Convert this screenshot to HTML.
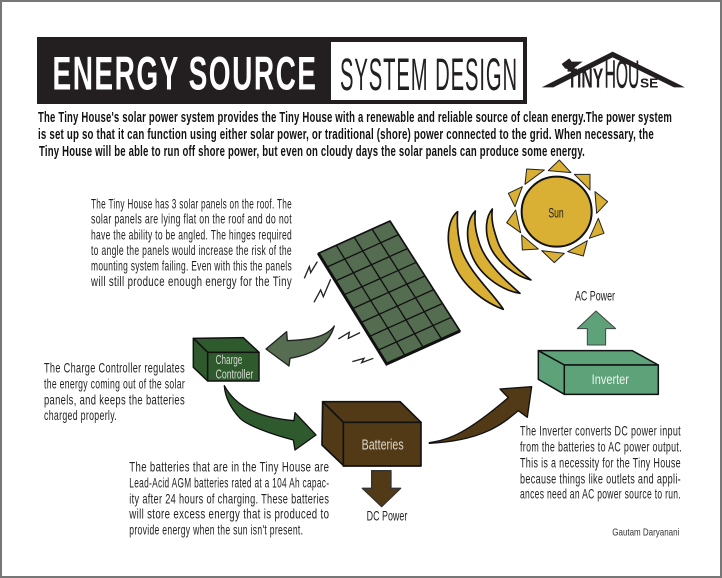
<!DOCTYPE html>
<html lang="en"><head><meta charset="utf-8"><title>Energy Source System Design</title>
<style>
html,body{margin:0;padding:0;background:#fff}
svg{display:block}
text{font-family:"Liberation Sans",sans-serif}
.b{font-size:14px;fill:#222;letter-spacing:.5px}
.i{font-size:14.5px;font-weight:bold;fill:#111;letter-spacing:.3px}
</style></head><body>
<svg width="722" height="578" viewBox="0 0 722 578" xmlns="http://www.w3.org/2000/svg">
<rect x="1" y="1" width="720" height="576" fill="#fff" stroke="#777" stroke-width="2"/>

<g>
<rect x="37" y="37" width="490" height="67" fill="#231f20"/>
<rect x="331" y="42" width="192" height="58" fill="#fff"/>
<text x="52.5" y="89.5" font-size="47" font-weight="bold" fill="#fff" letter-spacing="2.5" textLength="265" lengthAdjust="spacingAndGlyphs">ENERGY SOURCE</text>
<text x="340" y="90" font-size="45" fill="#231f20" letter-spacing="2" textLength="178" lengthAdjust="spacingAndGlyphs">SYSTEM DESIGN</text>
</g>

<g transform="translate(530,40) scale(.3333)">
<path d="M35,142 L248,35 L465,142 L432,142 L248,52 L70,142Z" fill="#231f20"/>
<path d="M95,72 L118,55 L125,65 L158,65 L135,82 L128,92 L105,85Z" fill="#231f20"/>
<text x="112" y="142" font-size="84" font-weight="bold" fill="#231f20" textLength="108" lengthAdjust="spacingAndGlyphs">TINY</text>
<text x="224" y="142" font-size="118" fill="#231f20" stroke="#231f20" stroke-width="1.5" textLength="104" lengthAdjust="spacingAndGlyphs">HOU</text>
<text x="330" y="142" font-size="38" font-weight="bold" fill="#231f20" textLength="55" lengthAdjust="spacingAndGlyphs">SE</text>
</g>

<g>
<text class="i" x="38" y="122" textLength="634" lengthAdjust="spacingAndGlyphs">The Tiny House's solar power system provides the Tiny House with a renewable and reliable source of clean energy.The power system</text>
<text class="i" x="38" y="139" textLength="616" lengthAdjust="spacingAndGlyphs">is set up so that it can function using either solar power, or traditional (shore) power connected to the grid. When necessary, the</text>
<text class="i" x="39" y="156" textLength="546" lengthAdjust="spacingAndGlyphs">Tiny House will be able to run off shore power, but even on cloudy days the solar panels can produce some energy.</text>
</g>

<g>
<text class="b" x="91" y="208.3" textLength="201" lengthAdjust="spacingAndGlyphs">The Tiny House has 3 solar panels on the roof. The</text>
<text class="b" x="91" y="223.7" textLength="201" lengthAdjust="spacingAndGlyphs">solar panels are lying flat on the roof and do not</text>
<text class="b" x="91" y="239.3" textLength="201" lengthAdjust="spacingAndGlyphs">have the ability to be angled. The hinges required</text>
<text class="b" x="91" y="255" textLength="201" lengthAdjust="spacingAndGlyphs">to angle the panels would increase the risk of the</text>
<text class="b" x="91" y="270.7" textLength="201" lengthAdjust="spacingAndGlyphs">mounting system failing. Even with this the panels</text>
<text class="b" x="91" y="286" textLength="201" lengthAdjust="spacingAndGlyphs">will still produce enough energy for the Tiny</text>
</g>

<g>
<text class="b" x="44" y="372.3" textLength="141" lengthAdjust="spacingAndGlyphs">The Charge Controller regulates</text>
<text class="b" x="44" y="388.3" textLength="141" lengthAdjust="spacingAndGlyphs">the energy coming out of the solar</text>
<text class="b" x="44" y="404.3" textLength="141" lengthAdjust="spacingAndGlyphs">panels, and keeps the batteries</text>
<text class="b" x="44" y="420" textLength="73" lengthAdjust="spacingAndGlyphs">charged properly.</text>
</g>

<g>
<text class="b" x="129.3" y="471.7" textLength="200" lengthAdjust="spacingAndGlyphs">The batteries that are in the Tiny House are</text>
<text class="b" x="129.3" y="487.3" textLength="200" lengthAdjust="spacingAndGlyphs">Lead-Acid AGM batteries rated at a 104 Ah capac-</text>
<text class="b" x="129.3" y="503.3" textLength="200" lengthAdjust="spacingAndGlyphs">ity after 24 hours of charging. These batteries</text>
<text class="b" x="129.3" y="518.3" textLength="200" lengthAdjust="spacingAndGlyphs">will store excess energy that is produced to</text>
<text class="b" x="129.3" y="534.3" textLength="174" lengthAdjust="spacingAndGlyphs">provide energy when the sun isn't present.</text>
</g>

<g>
<text class="b" x="520" y="435.7" textLength="161" lengthAdjust="spacingAndGlyphs">The Inverter converts DC power input</text>
<text class="b" x="520" y="451.7" textLength="162" lengthAdjust="spacingAndGlyphs">from the batteries to AC power output.</text>
<text class="b" x="520" y="467.3" textLength="161" lengthAdjust="spacingAndGlyphs">This is a necessity for the Tiny House</text>
<text class="b" x="520" y="483.3" textLength="161" lengthAdjust="spacingAndGlyphs">because things like outlets and appli-</text>
<text class="b" x="520" y="498.3" textLength="161" lengthAdjust="spacingAndGlyphs">ances need an AC power source to run.</text>
</g>
<text x="612.3" y="535.7" font-size="10.5" fill="#333" textLength="67" lengthAdjust="spacingAndGlyphs">Gautam Daryanani</text>

<g transform="translate(495,150) scale(.3333)">
<g fill="#d9b034" stroke="#222" stroke-width="3" stroke-linejoin="round">
<path d="M160,62 L193,30 L228,68Z"/>
<path d="M95,57 L148,60 L90,103Z"/>
<path d="M238,73 L285,73 L285,120Z"/>
<path d="M40,130 L82,110 L60,170Z"/>
<path d="M300,125 L338,155 L305,190Z"/>
<path d="M35,218 L62,180 L77,248Z"/>
<path d="M310,205 L327,250 L283,265Z"/>
<path d="M80,255 L130,297 L82,300Z"/>
<path d="M140,302 L208,310 L178,338Z"/>
<path d="M218,305 L277,272 L265,318Z"/>
</g>
<circle cx="185" cy="185" r="105" fill="#d9b034" stroke="#111" stroke-width="6"/>
<text x="160" y="202" font-size="42" fill="#222" textLength="46" lengthAdjust="spacingAndGlyphs">Sun</text>
</g>

<g transform="translate(290,150) scale(.3333)" fill="#d9b034" stroke="#111" stroke-width="5" stroke-linejoin="round">
<path d="M503,185 C478,205 468,255 480,305 C495,385 565,450 640,478 C610,430 535,365 513,295 C503,255 500,220 503,185Z"/>
<path d="M556,183 C533,205 526,250 540,300 C560,370 630,420 690,430 C650,395 590,340 570,285 C558,250 552,220 556,183Z"/>
<path d="M607,177 C588,200 584,240 597,280 C615,335 680,380 723,390 C685,360 635,320 620,265 C610,235 603,210 607,177Z"/>
</g>

<g transform="translate(290,150) scale(.3333)">
<path d="M85,310 L300,213 L510,543 L290,642Z" fill="#546c50" stroke="#111" stroke-width="5" stroke-linejoin="round"/>
<path d="M85,310 L290,642 L510,543" fill="none" stroke="#111" stroke-width="9"/>
<g stroke="#111" stroke-width="4" fill="none">
<path d="M139,286 L345,617"/>
<path d="M192.5,261.5 L400,592.5"/>
<path d="M246,237 L455,567.5"/>
<path d="M110.6,351.5 L326,254"/>
<path d="M136,393 L352.5,295.5"/>
<path d="M162,434.5 L379,337"/>
<path d="M187.5,476 L405,378"/>
<path d="M213,517.5 L431,419"/>
<path d="M239,559 L457.5,460.5"/>
<path d="M264.4,600.5 L484,502"/>
</g>
<g fill="none" stroke="#222" stroke-width="4">
<path d="M43,385 L58,350 L62,368 L82,335"/>
<path d="M72,457 L92,420 L100,440 L122,388"/>
<path d="M145,567 L178,547 L175,565 L210,548"/>
<path d="M187,635 L222,625 L215,638 L250,625"/>
</g>
</g>

<g transform="translate(180,290) scale(.3333)">
<path d="M258,177 L320,125 L322,152 C390,150 440,140 463,108 C450,150 420,190 330,205 L327,228Z" fill="#566d51" stroke="#222" stroke-width="4" stroke-linejoin="round"/>
<g fill="#2f5a2e" stroke="#111" stroke-width="4.5" stroke-linejoin="round">
<path d="M40,145 L190,143 L237,187 L83,187Z"/>
<path d="M40,145 L83,187 L83,273 L40,232Z"/>
<rect x="83" y="187" width="154" height="86"/>
</g>
<text x="107" y="222" font-size="38" fill="#d5dbd0" textLength="80" lengthAdjust="spacingAndGlyphs">Charge</text>
<text x="107" y="265" font-size="38" fill="#d5dbd0" textLength="113" lengthAdjust="spacingAndGlyphs">Controller</text>
<path d="M133,287 C165,345 225,382 342,392 L345,368 L408,435 L345,480 L340,450 C270,432 200,405 180,385 C150,352 135,320 133,287Z" fill="#2f5a2e" stroke="#111" stroke-width="4" stroke-linejoin="round"/>
</g>

<g transform="translate(180,290) scale(.3333)">
<g fill="#523a16" stroke="#111" stroke-width="5" stroke-linejoin="round">
<path d="M428,335 L660,335 L723,397 L490,397Z"/>
<path d="M428,335 L490,397 L492,528 L426,465Z"/>
<rect x="490" y="397" width="233" height="131"/>
</g>
<text x="545" y="478" font-size="44" fill="#ddd8cc" textLength="126" lengthAdjust="spacingAndGlyphs">Batteries</text>
<path d="M575,542 L633,542 L633,595 L662,595 L605,650 L547,595 L575,595Z" fill="#523a16" stroke="#333" stroke-width="4" stroke-linejoin="round"/>
<text x="560" y="692" font-size="42" fill="#222" textLength="122" lengthAdjust="spacingAndGlyphs">DC Power</text>
</g>

<g transform="translate(420,280) scale(.3333)">
<g fill="#5ea27a" stroke="#111" stroke-width="4.5" stroke-linejoin="round">
<path d="M355,212 L637,212 L715,255 L433,255Z"/>
<path d="M355,212 L433,255 L433,343 L355,298Z"/>
<rect x="433" y="255" width="282" height="88"/>
</g>
<text x="515" y="312" font-size="42" fill="#eef3ee" textLength="112" lengthAdjust="spacingAndGlyphs">Inverter</text>
<path d="M528,93 L587,146 L557,146 L557,195 L502,195 L502,146 L472,146Z" fill="#5ea27a" stroke="#444" stroke-width="3" stroke-linejoin="round"/>
<text x="465" y="62" font-size="42" fill="#222" textLength="120" lengthAdjust="spacingAndGlyphs">AC Power</text>
<path d="M28,488 C90,478 140,460 265,353 L240,327 L335,320 L322,412 L295,392 C250,430 190,482 28,490Z" fill="#523a16" stroke="#111" stroke-width="4" stroke-linejoin="round"/>
</g>
</svg>
</body></html>
